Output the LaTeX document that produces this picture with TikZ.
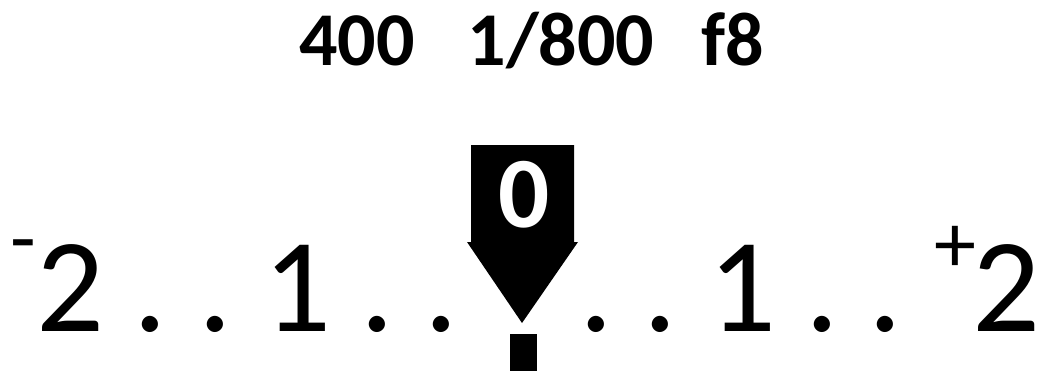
\documentclass[tikz,border=0pt]{standalone}
\usepackage{fontspec}
\setmainfont{Carlito}
\begin{document}
\begin{tikzpicture}[x=1pt,y=1pt,
  big/.style={inner sep=0pt,anchor=base,font=\fontsize{134}{134}\selectfont},
  sup/.style={inner sep=0pt,anchor=base,font=\fontsize{84}{84}\selectfont},
  top/.style={inner sep=0pt,anchor=base,font=\fontsize{76}{76}\selectfont\bfseries}]
\useasboundingbox (0,0) rectangle (1040,373);
% top readout
\node[top] (iso) at (357,308) {400};
\node[top] (shutter) at (561,308) {1/800};
\node[top] (aperture) at (733,308) {f8};
% scale
\node[sup] (minus) at (23,107) {-};
\node[big] (m2) at (70,42) {2};
\node[big] (d1) at (150,42) {.};
\node[big] (d2) at (215,42) {.};
\node[big] (m1) at (297,42) {1};
\node[big] (d3) at (377,42) {.};
\node[big] (d4) at (441,42) {.};
\node[big] (d5) at (596,42) {.};
\node[big] (d6) at (660,42) {.};
\node[big] (p1) at (742,42) {1};
\node[big] (d7) at (822,42) {.};
\node[big] (d8) at (885,42) {.};
\node[sup] (plus) at (955,101) {+};
\node[big] (p2) at (1006,42) {2};
% pointer
\fill[black] (471,228) -- (574,228) -- (574,131) -- (578,131) -- (522,50) -- (467,131) -- (471,131) -- cycle;
\node[inner sep=0pt,anchor=base,text=white,font=\fontsize{101}{101}\selectfont\bfseries] (zero) at (524,146) {0};
\fill[black] (510,39) rectangle (537,2);
\end{tikzpicture}
\end{document}
